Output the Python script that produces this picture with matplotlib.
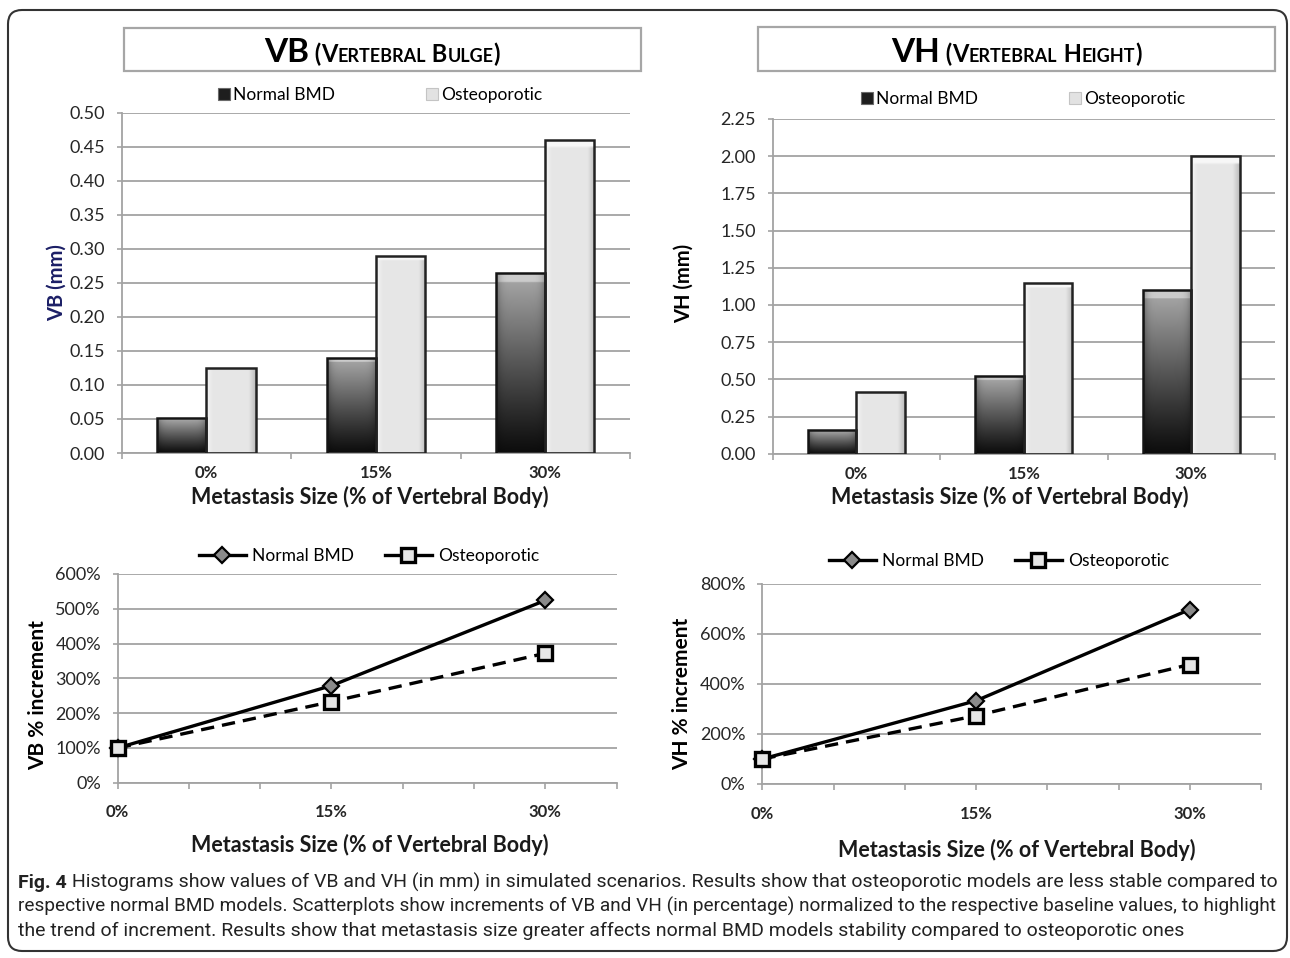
import matplotlib

matplotlib.use("Agg")
import matplotlib.pyplot as plt
import numpy as np
from matplotlib.lines import Line2D
from matplotlib.patches import FancyBboxPatch, Patch, Rectangle
from matplotlib.ticker import FormatStrFormatter, FuncFormatter
from matplotlib.transforms import IdentityTransform

# values
sizes = [0, 15, 30]
size_labels = ["0%", "15%", "30%"]

vb_normal = [0.051, 0.140, 0.264]
vb_osteo = [0.125, 0.290, 0.460]
vh_normal = [0.157, 0.520, 1.100]
vh_osteo = [0.418, 1.148, 2.000]

vb_inc_normal = [100, 279, 524]
vb_inc_osteo = [100, 233, 372]
vh_inc_normal = [100, 333, 698]
vh_inc_osteo = [100, 273, 478]

series_names = ["Normal BMD", "Osteoporotic"]
x_title = "Metastasis Size (% of Vertebral Body)"

caption_lines = [
    "Histograms show values of VB and VH (in mm) in simulated scenarios. "
    "Results show that osteoporotic models are less stable compared to",
    "respective normal BMD models. Scatterplots show increments of VB and VH "
    "(in percentage) normalized to the respective baseline values, to highlight",
    "the trend of increment. Results show that metastasis size greater affects "
    "normal BMD models stability compared to osteoporotic ones",
]

W, H = 1290, 958
GRID = "#a3a3a3"
TICK_TXT = "#262626"

plt.rcParams["font.family"] = ["Lato", "DejaVu Sans"]

fig = plt.figure(figsize=(W / 100, H / 100), dpi=100)
px = IdentityTransform()
renderer = fig.canvas.get_renderer()


def ax_rect(x0, x1, ytop, ybot):
    return [x0 / W, 1 - ybot / H, (x1 - x0) / W, (ybot - ytop) / H]


def text_width(s, size, weight="normal", family=None):
    kw = {"family": family} if family else {}
    t = fig.text(0, 0, s, fontsize=size, fontweight=weight, **kw)
    w = t.get_window_extent(renderer).width
    t.remove()
    return w


def rich_line(x, y, pieces, align="center", family=None, color="black"):
    items = []
    for s, size, weight in pieces:
        kw = {"family": family} if family else {}
        t = fig.text(0, H - y, s, fontsize=size, fontweight=weight, ha="left",
                     va="baseline", transform=px, color=color, **kw)
        items.append((t, t.get_window_extent(renderer).width))
    total = sum(w for _, w in items)
    start = x - total / 2 if align == "center" else x
    for t, w in items:
        t.set_x(start)
        start += w
    return total


def dark_gradient():
    t = np.linspace(0, 1, 120)[:, None]
    u = np.linspace(0, 1, 40)[None, :]
    v = 0.05 + 0.62 * t ** 1.1
    v = np.where(t > 0.955, 0.80, v)
    edge = 1 - 0.3 * np.abs(2 * u - 1) ** 6
    g = np.clip(v * edge, 0, 1)
    return np.dstack([g, g, g])


def light_gradient():
    t = np.linspace(0, 1, 120)[:, None]
    u = np.linspace(0, 1, 40)[None, :]
    v = 0.905 + 0.0 * t + 0.0 * u
    v = v + 0.06 * np.clip((0.12 - u) / 0.12, 0, 1)
    v = v - 0.16 * np.clip((u - 0.86) / 0.14, 0, 1)
    v = np.where(t > 0.975, 0.97, v)
    g = np.clip(v, 0, 1)
    return np.dstack([g, g, g])


def shade(ax, bars, img):
    for rect in bars:
        x0, w, h = rect.get_x(), rect.get_width(), rect.get_height()
        im = ax.imshow(img, extent=(x0, x0 + w, 0, h), origin="lower",
                       aspect="auto", interpolation="bilinear", zorder=2)
        im.set_clip_path(rect)


def style_axes(ax):
    ax.grid(axis="y", color=GRID, linewidth=1.3)
    ax.set_axisbelow(True)
    for s in ("top", "right"):
        ax.spines[s].set_visible(False)
    for s in ("left", "bottom"):
        ax.spines[s].set_color(GRID)
        ax.spines[s].set_linewidth(1.3)
    ax.tick_params(axis="y", length=3.5, color=GRID, width=1.2, labelsize=13,
                   labelcolor=TICK_TXT, pad=8.5)


def bar_chart(rect, normal, osteo, ymax, ystep, legend_xy):
    ax = fig.add_axes(rect)
    idx = np.arange(len(sizes))
    w = 0.29
    b1 = ax.bar(idx - w / 2, normal, w, facecolor="none", edgecolor="#141414",
                linewidth=1.8, zorder=3)
    b2 = ax.bar(idx + w / 2, osteo, w, facecolor="none", edgecolor="#222222",
                linewidth=1.8, zorder=3)
    shade(ax, b1, dark_gradient())
    shade(ax, b2, light_gradient())
    ax.set_xlim(-0.5, len(sizes) - 0.5)
    ax.set_ylim(0, ymax)
    ax.set_yticks(np.arange(0, ymax + ystep / 2, ystep))
    ax.yaxis.set_major_formatter(FormatStrFormatter("%.2f"))
    ax.set_xticks(idx)
    ax.set_xticklabels(size_labels, fontweight="bold", fontsize=12, color=TICK_TXT)
    ax.set_xticks(np.arange(-0.5, len(sizes)), minor=True)
    ax.tick_params(axis="x", which="major", length=0, pad=8.5)
    ax.tick_params(axis="x", which="minor", length=4, color=GRID, width=1.2)
    style_axes(ax)

    handles = [Patch(facecolor="#1e1e1e", edgecolor="#6a6a6a", linewidth=0.8),
               Patch(facecolor="#e2e2e2", edgecolor="#c4c4c4", linewidth=0.8)]
    ax.legend(handles, series_names, loc="center", ncol=2, frameon=False,
              bbox_to_anchor=(legend_xy[0] / W, 1 - legend_xy[1] / H),
              bbox_transform=fig.transFigure, fontsize=12.5, handlelength=0.7,
              handleheight=0.7, handletextpad=0.2, columnspacing=5.2)
    return ax


def line_chart(rect, normal, osteo, ymax, ystep, legend_xy):
    ax = fig.add_axes(rect)
    normal_style = dict(color="black", lw=2.4, marker="D", ms=8.5, mfc="#8a8a8a",
                        mec="black", mew=1.6)
    osteo_style = dict(color="black", lw=2.4, marker="s", ms=10.5, mfc="#e6e6e6",
                       mec="black", mew=2.4)
    ax.plot(sizes, normal, zorder=3, clip_on=False, **normal_style)
    ax.plot(sizes, osteo, ls=(0, (4, 2.4)), zorder=4, clip_on=False, **osteo_style)
    ax.set_xlim(0, 35)
    ax.set_ylim(0, ymax)
    ticks = list(range(0, 36, 5))
    ax.set_xticks(ticks)
    ax.set_xticklabels([size_labels[sizes.index(t)] if t in sizes else "" for t in ticks],
                       fontweight="bold", fontsize=12, color=TICK_TXT)
    ax.tick_params(axis="x", length=4, color=GRID, width=1.2, pad=11.5)
    ax.set_yticks(np.arange(0, ymax + ystep / 2, ystep))
    ax.yaxis.set_major_formatter(FuncFormatter(lambda v, _: f"{v:.0f}%"))
    style_axes(ax)
    handles = [Line2D([], [], **normal_style), Line2D([], [], **osteo_style)]
    ax.legend(handles, series_names, loc="center", ncol=2, frameon=False,
              bbox_to_anchor=(legend_xy[0] / W, 1 - legend_xy[1] / H),
              bbox_transform=fig.transFigure, fontsize=12.5, handlelength=2.7,
              handletextpad=0.35, columnspacing=1.8)
    return ax


# histograms
bar_chart(ax_rect(121.7, 630, 112.5, 453), vb_normal, vb_osteo, 0.5, 0.05, (380, 95))
bar_chart(ax_rect(772.7, 1275, 118.9, 453.7), vh_normal, vh_osteo, 2.25, 0.25, (1023, 99))

# increments
line_chart(ax_rect(117.7, 616.5, 574, 782.7), vb_inc_normal, vb_inc_osteo, 600, 100, (369, 556))
line_chart(ax_rect(762.3, 1261, 584, 784), vh_inc_normal, vh_inc_osteo, 800, 200, (999, 561))

# axis titles
fig.text(57 / W, 1 - 283 / H, "VB (mm)", rotation=90, ha="center", va="center",
         fontsize=14.5, fontweight="bold", color="#1c1f66")
fig.text(684 / W, 1 - 283 / H, "VH (mm)", rotation=90, ha="center", va="center",
         fontsize=14.5, fontweight="bold", color="black")
fig.text(38 / W, 1 - 695 / H, "VB % increment", rotation=90, ha="center", va="center",
         fontsize=15, fontweight="bold", color="black")
fig.text(682 / W, 1 - 694 / H, "VH % increment", rotation=90, ha="center", va="center",
         fontsize=15, fontweight="bold", color="black")
for xc, yc in [(370, 497), (1010, 497), (370, 845), (1017, 850)]:
    fig.text(xc / W, 1 - yc / H, x_title, ha="center", va="center",
             fontsize=15.5, fontweight="bold", color="#1a1a1a")

# title boxes
for x0, x1, y0, y1 in [(123.5, 640.5, 28.3, 71), (758, 1275, 27.3, 71)]:
    fig.add_artist(Rectangle((x0, H - y1), x1 - x0, y1 - y0, transform=px,
                             fill=False, edgecolor="#a6a6a6", linewidth=1.6))

big, cap, small = 24, 17, 13
rich_line(382, 62, [("VB", big, "bold"), (" (", cap, "bold"), ("V", cap, "bold"),
                    ("ERTEBRAL", small, "bold"), (" B", cap, "bold"),
                    ("ULGE", small, "bold"), (")", cap, "bold")])
rich_line(1016.5, 62, [("VH", big, "bold"), (" (", cap, "bold"), ("V", cap, "bold"),
                       ("ERTEBRAL", small, "bold"), (" H", cap, "bold"),
                       ("EIGHT", small, "bold"), (")", cap, "bold")])

# caption, each full line sized to span the panel width
cap_family = ["Liberation Sans Narrow", "Roboto", "DejaVu Sans"]
span = 1275 - 18
size1 = 10 * span / (text_width("Fig. 4", 10, "bold", cap_family)
                     + text_width(" " + caption_lines[0], 10, "normal", cap_family))
size2 = 10 * span / text_width(caption_lines[1], 10, "normal", cap_family)
rich_line(18, 888, [("Fig. 4", size1, "bold"), (" " + caption_lines[0], size1, "normal")],
          align="left", family=cap_family, color="#222222")
rich_line(18, 912, [(caption_lines[1], size2, "normal")], align="left",
          family=cap_family, color="#222222")
rich_line(18, 936, [(caption_lines[2], size1, "normal")], align="left",
          family=cap_family, color="#222222")

# outer rounded frame
fig.add_artist(FancyBboxPatch((8, H - 951), 1279, 941, transform=px,
                              boxstyle="round,pad=0,rounding_size=14",
                              fill=False, edgecolor="#333333", linewidth=1.5))

fig.savefig("out.png", dpi=100)
